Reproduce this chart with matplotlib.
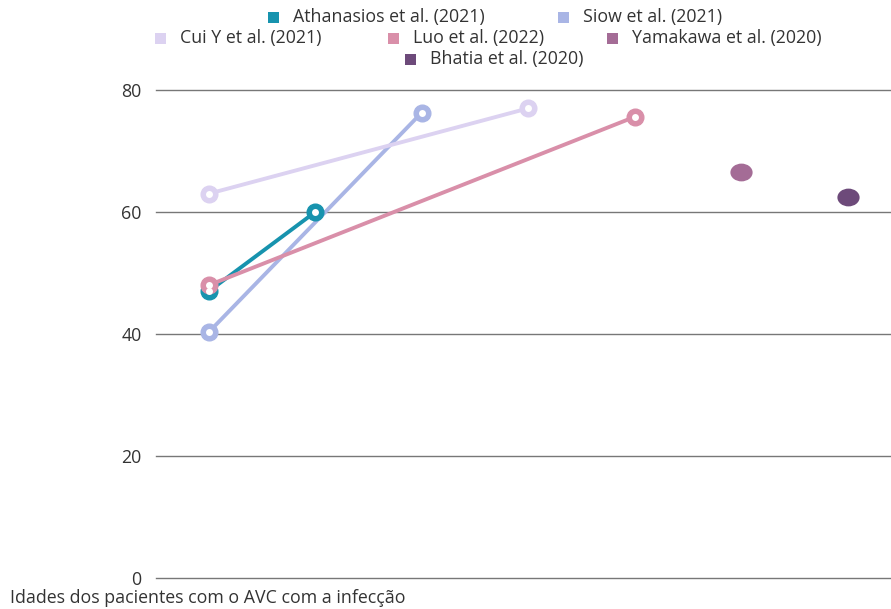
import matplotlib.pyplot as plt
from matplotlib.path import Path
from matplotlib.transforms import Affine2D
from matplotlib.patches import Rectangle

plt.rcParams['font.family'] = ['Open Sans', 'DejaVu Sans']

# data (x = category slot, y = age)
studies = ['Athanasios et al. (2021)', 'Siow et al. (2021)', 'Cui Y et al. (2021)',
           'Luo et al. (2022)', 'Yamakawa et al. (2020)', 'Bhatia et al. (2020)']
colors = ['#1793ae', '#a9b5e5', '#dcd2f1', '#d98fa9', '#a46c96', '#6d4a7a']
xs = [[0, 1], [0, 2], [0, 3], [0, 4], [5], [6]]
ages = [[47, 60], [40.3, 76.3], [63, 77], [48, 75.6], [66.5], [62.4]]
yticks = [0, 20, 40, 60, 80]

W, H = 891, 609
fig = plt.figure(figsize=(W / 100, H / 100), dpi=100)
ax = fig.add_axes([155.5 / W, 31 / H, 745.5 / W, 488 / H])

oval = Path.unit_circle().transformed(Affine2D().scale(1, 0.8))

for x, y, c in zip(xs, ages, colors):
    if len(x) > 1:
        ax.plot(x, y, color=c, lw=2.8, zorder=3, solid_capstyle='round', clip_on=False)
        ax.plot(x, y, 'o', color=c, ms=12, zorder=4, clip_on=False)
        ax.plot(x, y, 'o', color='white', ms=5, mec='none', zorder=5, clip_on=False)
    else:
        ax.plot(x, y, marker=oval, ms=16, color=c, lw=0, mec='none',
                zorder=4, clip_on=False)

ax.set_xlim(-0.5, 6.5)
ax.set_ylim(0, 80)
ax.set_yticks(yticks)
ax.set_xticks([])
for t in yticks:
    ax.axhline(t, color='#777777', lw=1, zorder=1, clip_on=False)
for s in ax.spines.values():
    s.set_visible(False)
ax.tick_params(axis='y', length=0, pad=10, labelsize=12.8, labelcolor='#333333')

fig.text(10 / W, 1 - 598 / H, 'Idades dos pacientes com o AVC com a infecção',
         fontsize=12.8, color='#333333', ha='left', va='center')

# legend, laid out by hand in three centred rows as in the original
legend_pos = [(268, 17), (558, 17), (155, 38), (388, 38), (607, 38), (405, 59)]
for (px, py), name, c in zip(legend_pos, studies, colors):
    fig.patches.append(Rectangle((px / W, 1 - (py + 5.5) / H), 11 / W, 11 / H,
                                 transform=fig.transFigure, color=c, lw=0))
    fig.text((px + 25) / W, 1 - py / H, name, fontsize=12.8, color='#333333',
             ha='left', va='center')

fig.savefig('out.png', dpi=100)
